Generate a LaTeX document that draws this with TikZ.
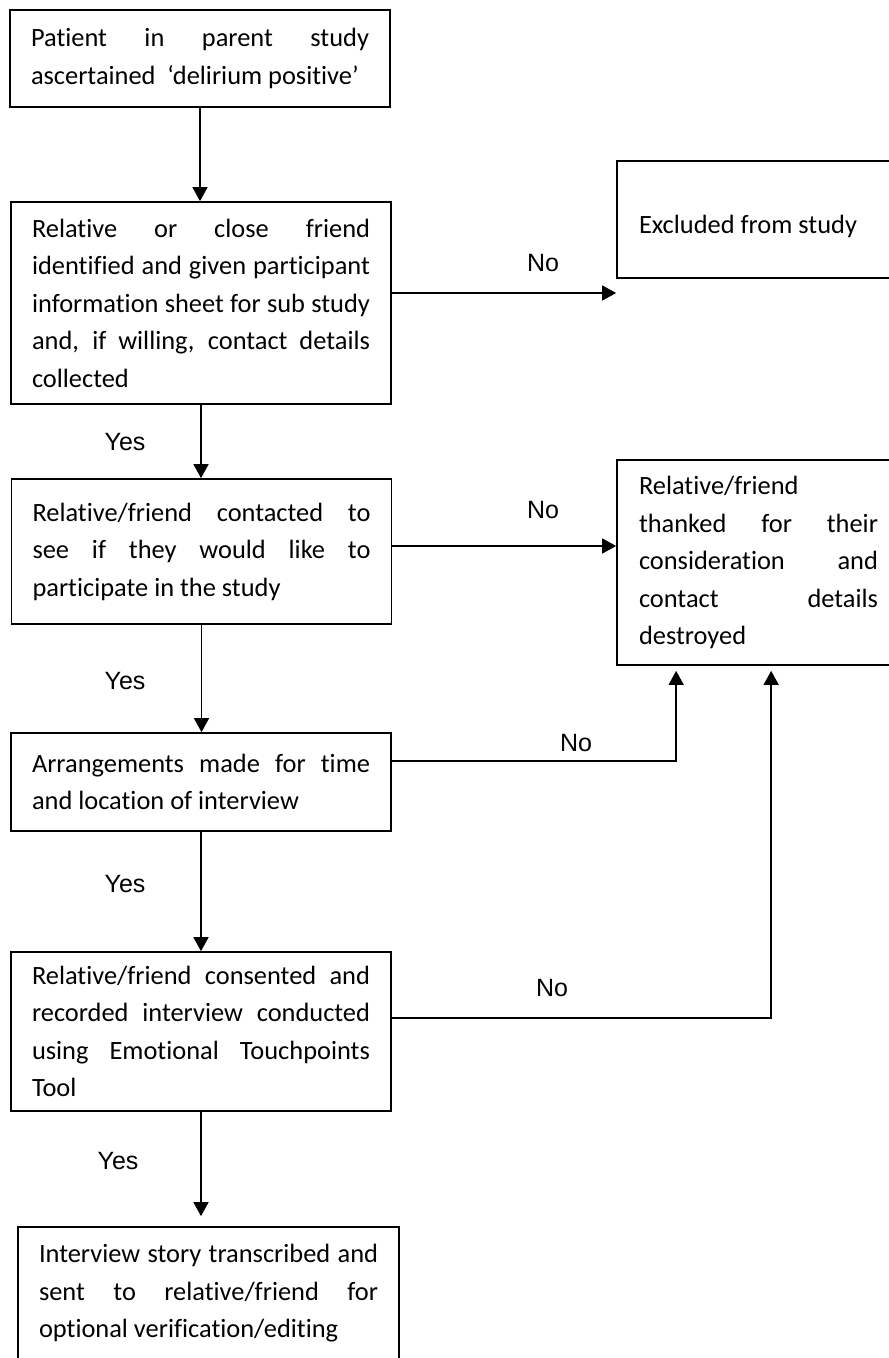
\documentclass[tikz,border=0pt]{standalone}
\usepackage{fontspec}
\setmainfont{Carlito}[Ligatures=NoCommon]
\newfontfamily\answerfont{Liberation Sans}
\usetikzlibrary{arrows.meta}
\hyphenpenalty=10000
\exhyphenpenalty=10000
\tolerance=10000
\begin{document}
\begin{tikzpicture}[
    x=1pt, y=-1pt,
    flowbox/.style={draw, line width=1.7pt, inner xsep=21pt, inner ysep=0pt,
        text width=338pt, align=justify, minimum height=#1,
        font=\fontsize{26.4}{37.5}\selectfont},
    sidebox/.style={flowbox=#1, text width=239pt, inner xsep=22pt},
    answer/.style={inner sep=0pt, font=\answerfont\fontsize{25}{30}\selectfont},
    conn/.style={line width=1.5pt, -{Triangle[length=14pt,width=15pt]}}]
    \useasboundingbox (0,0) rectangle (889,1358);
    \clip (0,0) rectangle (889,1358);

    % Cajas del recorrido principal.
    \node[flowbox=97pt] (patient) at (200,58.5)
        {Patient in parent study\linebreak ascertained~~‘delirium positive’};
    \node[flowbox=202pt] (identify) at (201,303)
        {Relative or close friend\linebreak identified and given participant\linebreak
         information sheet for sub study\linebreak and, if willing, contact details\linebreak
         collected};
    \node[flowbox=145pt] (contact) at (201.5,551.5)
        {Relative/friend contacted to\linebreak see if they would like to\linebreak
         participate in the study};
    \node[flowbox=98pt] (arrange) at (201,782)
        {Arrangements made for time\linebreak and location of interview};
    \node[flowbox=159pt] (interview) at (201,1031.5)
        {Relative/friend consented and\linebreak recorded interview conducted\linebreak
         using Emotional Touchpoints\linebreak Tool};
    \node[flowbox=133pt, text width=339pt] (transcribe) at (208.5,1293.5)
        {Interview story transcribed and\linebreak sent to relative/friend for\linebreak
         optional verification/editing};

    % Cajas de salida a la derecha.
    \node[sidebox=117pt, text height=33pt] (excluded) at (758.5,219.5) {Excluded from study};
    \node[sidebox=205pt] (thanked) at (758.5,562.5)
        {Relative/friend\\ thanked for their\linebreak consideration and\linebreak
         contact details\linebreak destroyed};

    % Flechas del Yes.
    \draw[conn] (patient.south) -- (patient.south |- identify.north);
    \draw[conn] (identify.south) -- (identify.south |- contact.north);
    \draw[conn] (contact.south) -- (contact.south |- arrange.north);
    \draw[conn] (arrange.south) -- (arrange.south |- interview.north);
    \draw[conn, shorten >=10pt] (interview.south) -- (interview.south |- transcribe.north);

    % Flechas del No.
    \draw[conn] ([yshift=10pt]identify.east) -- ([yshift=10pt]identify.east -| excluded.west);
    \draw[conn] ([yshift=5.5pt]contact.east) -- ([yshift=5.5pt]contact.east -| thanked.west);
    \draw[conn, shorten >=5pt] ([yshift=21pt]arrange.east) -| ([xshift=60pt]thanked.south west);
    \draw[conn, shorten >=5pt] ([yshift=13.5pt]interview.east) -| ([xshift=155pt]thanked.south west);

    % Etiquetas.
    \node[answer] (no1) at (543,263.5) {No};
    \node[answer] (no2) at (543,510) {No};
    \node[answer] (no3) at (576,743) {No};
    \node[answer] (no4) at (552,988) {No};
    \node[answer] (yes1) at (125,442) {Yes};
    \node[answer] (yes2) at (125,681) {Yes};
    \node[answer] (yes3) at (125,884) {Yes};
    \node[answer] (yes4) at (118,1161) {Yes};
\end{tikzpicture}
\end{document}
